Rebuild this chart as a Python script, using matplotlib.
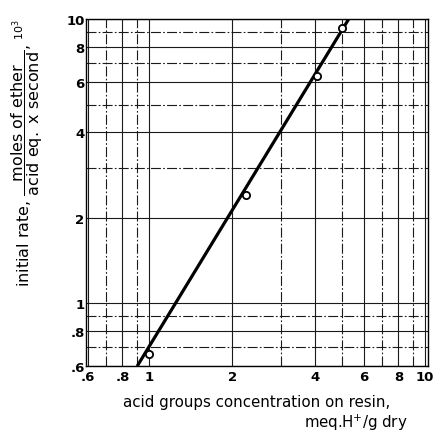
import numpy as np
import matplotlib
matplotlib.use("Agg")
import matplotlib.pyplot as plt
import matplotlib.ticker as mticker

plt.rcParams.update({
    "font.family": "DejaVu Sans",
    "mathtext.fontset": "dejavusans",
})

# measured points (acid groups conc. vs initial rate x10^3)
conc = [1.0, 2.25, 4.05, 5.0]
rate = [0.66, 2.4, 6.3, 9.3]

fit_x = [0.905, 5.35]
fit_y = [0.6, 10.2]

x_ticks = [0.6, 0.8, 1, 2, 4, 6, 8, 10]
x_labels = [".6", ".8", "1", "2", "4", "6", "8", "10"]
x_minor = [0.7, 0.9, 3, 5, 7, 9]
y_ticks = [0.6, 0.8, 1, 2, 4, 6, 8, 10]
y_labels = [".6", ".8", "1", "2", "4", "6", "8", "10"]
y_minor = [0.7, 0.9, 3, 5, 7, 9]

fig = plt.figure(figsize=(4.36, 4.35), dpi=100)
ax = fig.add_axes([0.197, 0.156, 0.785, 0.798])
ax.set_xscale("log")
ax.set_yscale("log")
ax.set_xlim(0.59, 10.25)
ax.set_ylim(0.6, 10)

ax.xaxis.set_major_locator(mticker.FixedLocator(x_ticks))
ax.xaxis.set_major_formatter(mticker.FixedFormatter(x_labels))
ax.xaxis.set_minor_locator(mticker.FixedLocator(x_minor))
ax.xaxis.set_minor_formatter(mticker.NullFormatter())
ax.yaxis.set_major_locator(mticker.FixedLocator(y_ticks))
ax.yaxis.set_major_formatter(mticker.FixedFormatter(y_labels))
ax.yaxis.set_minor_locator(mticker.FixedLocator(y_minor))
ax.yaxis.set_minor_formatter(mticker.NullFormatter())

ax.tick_params(which="both", length=0)
ax.tick_params(axis="x", pad=3, labelsize=9.5)
ax.tick_params(axis="y", pad=1, labelsize=9.5)
for lab in ax.get_xticklabels() + ax.get_yticklabels():
    lab.set_fontweight("bold")

ax.grid(True, which="major", color="#1a1a1a", lw=0.8, ls="-")
ax.grid(True, which="minor", color="#1a1a1a", lw=0.8, ls=(0, (9, 2, 1.5, 2)))
for s in ax.spines.values():
    s.set_linewidth(1.0)
    s.set_color("black")

ax.plot(fit_x, fit_y, color="black", lw=2.3, solid_capstyle="butt", zorder=3)
ax.plot(conc, rate, "o", ms=5.2, mfc="white", mec="black", mew=1.3, zorder=4)

fig.text(0.063, 0.648,
         r"initial rate, $\dfrac{\mathrm{moles\ of\ ether}}{\mathrm{acid\ eq.\ x\ second}}$, ${}^{10^{3}}$",
         rotation=90, ha="center", va="center", fontsize=11.5)

fig.text(0.282, 0.064, "acid groups concentration on resin,", fontsize=10.8,
         ha="left", va="baseline")
fig.text(0.936, 0.017, r"meq.H$^{+}$/g dry", fontsize=10.8, ha="right", va="baseline")

fig.savefig("out.png", dpi=100)
